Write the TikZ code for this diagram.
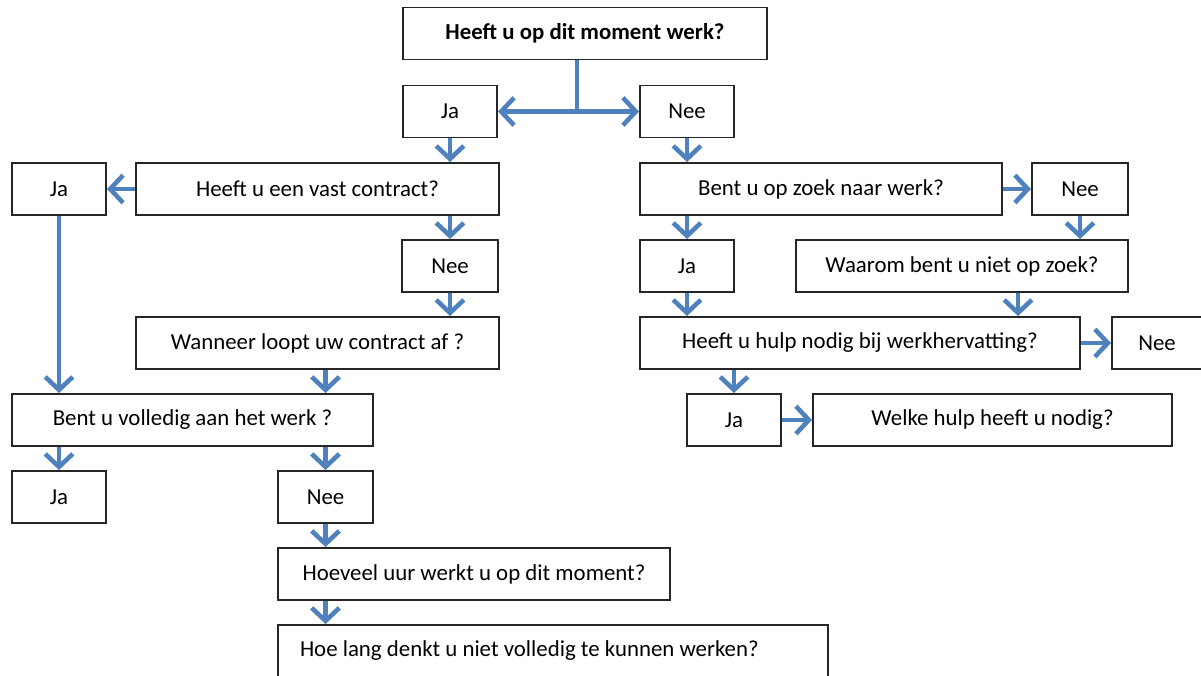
\documentclass[tikz,border=0pt]{standalone}
\usepackage{fontspec}
\setmainfont{Carlito}
\usetikzlibrary{arrows.meta}
\definecolor{pijlblauw}{RGB}{79,129,189}
\tikzset{
  vak/.style={draw=black!85, line width=1.1pt, fill=white, minimum height=1.04cm,
    inner sep=0pt, font=\fontsize{13}{15}\selectfont},
  lijn/.style={draw=pijlblauw, line width=2.6pt},
  pijl/.style={lijn, -{Straight Barb[length=2.6mm,width=5.5mm]}}
}

\begin{document}
\begin{tikzpicture}
    \useasboundingbox (0,0) rectangle (24.02,-13.5);
    \node[vak, minimum width=7.28cm, font=\fontsize{13}{15}\selectfont\bfseries] (vraag) at (11.70,-0.67) {Heeft u op dit moment werk?};
    \node[vak, minimum width=1.88cm] (ja1) at (9.00,-2.23) {Ja};
    \node[vak, minimum width=1.88cm] (nee1) at (13.74,-2.23) {Nee};
    \coordinate (splits) at (11.54,-2.23);

    \node[vak, minimum width=1.88cm] (ja2) at (1.18,-3.78) {Ja};
    \node[vak, minimum width=7.26cm] (vast) at (6.35,-3.78) {Heeft u een vast contract?};
    \node[vak, minimum width=1.92cm] (nee2) at (9.00,-5.32) {Nee};
    \node[vak, minimum width=7.26cm] (wanneer) at (6.35,-6.86) {Wanneer loopt uw contract af ?};
    \node[vak, minimum width=7.22cm] (volledig) at (3.85,-8.40) {Bent u volledig aan het werk ?};
    \node[vak, minimum width=1.88cm] (ja3) at (1.18,-9.94) {Ja};
    \node[vak, minimum width=1.90cm] (nee3) at (6.51,-9.94) {Nee};
    \node[vak, minimum width=7.84cm] (hoeveel) at (9.48,-11.48) {Hoeveel uur werkt u op dit moment?};
    \node[vak, minimum width=11cm, text width=10.12cm, inner xsep=0.44cm, align=flush left] (hoelang) at (11.06,-13.02) {Hoe lang denkt u niet volledig te kunnen werken?};

    \node[vak, minimum width=7.24cm] (zoek) at (16.42,-3.78) {Bent u op zoek naar werk?};
    \node[vak, minimum width=1.92cm] (nee4) at (21.60,-3.78) {Nee};
    \node[vak, minimum width=1.88cm] (ja4) at (13.74,-5.32) {Ja};
    \node[vak, minimum width=6.64cm] (waarom) at (19.24,-5.32) {Waarom bent u niet op zoek?};
    \node[vak, minimum width=8.80cm] (hulp) at (17.20,-6.86) {Heeft u hulp nodig bij werkhervatting?};
    \node[vak, minimum width=1.80cm] (nee5) at (23.14,-6.86) {Nee};
    \node[vak, minimum width=1.88cm] (ja5) at (14.68,-8.40) {Ja};
    \node[vak, minimum width=7.18cm] (welke) at (19.85,-8.40) {Welke hulp heeft u nodig?};

    \draw[lijn] (vraag.south -| splits) -- (splits);
    \draw[pijl] (splits) -- (ja1.east);
    \draw[pijl] (splits) -- (nee1.west);

    \draw[pijl] (ja1.south) -- (ja1.south |- vast.north);
    \draw[pijl] (vast.west) -- (ja2.east);
    \draw[pijl] (nee2 |- vast.south) -- (nee2.north);
    \draw[pijl] (nee2.south) -- (nee2.south |- wanneer.north);
    \draw[pijl] (ja2.south) -- (ja2.south |- volledig.north);
    \draw[pijl] (nee3 |- wanneer.south) -- (nee3 |- volledig.north);
    \draw[pijl] (ja3 |- volledig.south) -- (ja3.north);
    \draw[pijl] (nee3 |- volledig.south) -- (nee3.north);
    \draw[pijl] (nee3.south) -- (nee3.south |- hoeveel.north);
    \draw[pijl] (nee3 |- hoeveel.south) -- (nee3 |- hoelang.north);

    \draw[pijl] (nee1.south) -- (nee1.south |- zoek.north);
    \draw[pijl] (zoek.east) -- (nee4.west);
    \draw[pijl] (ja4 |- zoek.south) -- (ja4.north);
    \draw[pijl] (nee4.south) -- (nee4.south |- waarom.north);
    \draw[pijl] (ja4.south) -- (ja4.south |- hulp.north);
    \draw[pijl] ([xshift=1.12cm]waarom.south) -- ([xshift=1.12cm]waarom.south |- hulp.north);
    \draw[pijl] (hulp.east) -- (nee5.west);
    \draw[pijl] (ja5 |- hulp.south) -- (ja5.north);
    \draw[pijl] (ja5.east) -- (welke.west);
\end{tikzpicture}
\end{document}
